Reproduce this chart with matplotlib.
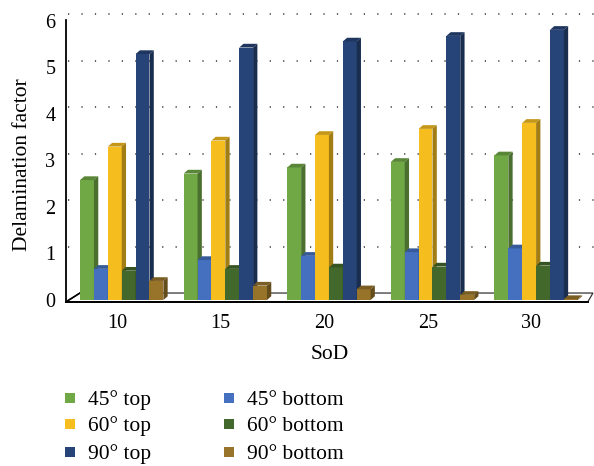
import matplotlib
matplotlib.use("Agg")
import matplotlib.pyplot as plt
import numpy as np

# delamination factor at each stand-off distance
sod = ["10", "15", "20", "25", "30"]
top_45 = [2.58, 2.72, 2.85, 2.97, 3.11]
bottom_45 = [0.67, 0.86, 0.95, 1.03, 1.11]
top_60 = [3.30, 3.43, 3.55, 3.68, 3.81]
bottom_60 = [0.63, 0.67, 0.70, 0.72, 0.74]
top_90 = [5.29, 5.43, 5.56, 5.68, 5.81]
bottom_90 = [0.41, 0.31, 0.23, 0.11, 0.02]
y_ticks = [0, 1, 2, 3, 4, 5, 6]

series = [
    ("45° top", top_45, "#70A845"),
    ("45° bottom", bottom_45, "#4570BF"),
    ("60° top", top_60, "#F6BD1F"),
    ("60° bottom", bottom_60, "#43682B"),
    ("90° top", top_90, "#264478"),
    ("90° bottom", bottom_90, "#98742A"),
]

plt.rcParams["font.family"] = ["Liberation Serif", "DejaVu Serif"]
FS = 14.5
FS_LAB = 15.5

fig = plt.figure(figsize=(5.94, 4.66), dpi=100)
ax = fig.add_axes([0, 0, 1, 1])
ax.set_xlim(-1.175, 4.559)
ax.set_ylim(-3.570, 6.452)
ax.axis("off")

# fake 3-d geometry: bar width, depth offsets, back wall offsets
w = 0.134
dx, dy = 0.0415, 0.080
wall_dx, wall_dy = 0.135, 0.15
x_axis = -0.538
x_right = 4.549
floor_y = -0.04
half_digit = 0.143  # half the digit height, to centre digits on a baseline


def shade(c, f):
    r, g, b = matplotlib.colors.to_rgb(c)
    return (r * f, g * f, b * f)


# back wall dotted gridlines
for k in y_ticks[1:]:
    ax.plot([x_axis + 0.02, 4.56], [k + wall_dy, k + wall_dy],
            color="#333333", lw=1.1, ls=(0, (0.8, 8)), zorder=1)

# floor
ax.fill([x_axis, x_axis + wall_dx, x_right, x_right - 0.05],
        [floor_y, wall_dy, wall_dy, floor_y],
        facecolor="white", edgecolor="#333333", lw=0.9, zorder=2)
ax.plot([x_axis, x_right - 0.05], [floor_y, floor_y], color="black", lw=1.4, zorder=3)
ax.plot([x_axis, x_axis + wall_dx], [floor_y, wall_dy], color="black", lw=1.2, zorder=3)

# y axis line
ax.plot([x_axis, x_axis], [floor_y, 6.02], color="black", lw=1.3, zorder=3)

x_groups = np.arange(len(sod))
z = 10
for gi, xg in enumerate(x_groups):
    for j, (name, vals, col) in enumerate(series):
        x0 = xg - 3 * w + j * w
        x1 = x0 + w
        v = vals[gi]
        ax.bar(x0, v, width=w, align="edge", color=col, lw=0, zorder=z)
        ax.fill([x0, x0 + dx, x1 + dx, x1], [v, v + dy, v + dy, v],
                color=shade(col, 0.8), lw=0, zorder=z)
        ax.fill([x1, x1 + dx, x1 + dx, x1], [0, dy, v + dy, v],
                color=shade(col, 0.66), lw=0, zorder=z)
        z += 1

# tick labels
for k in y_ticks:
    ax.text(-0.64, k - half_digit, str(k), ha="right", va="baseline", fontsize=FS)
for xg, lab in zip(x_groups, sod):
    ax.text(xg - 0.045, -0.452 - half_digit, lab, ha="center", va="baseline",
            fontsize=FS)

ax.text(2.01, -1.12 - half_digit, "SoD", ha="center", va="baseline", fontsize=FS_LAB)
ax.text(-0.962, 2.92, "Delamination factor", ha="center", va="center",
        rotation=90, fontsize=FS_LAB)

# legend: two columns of three rows
order = [0, 2, 4, 1, 3, 5]
legend_rows = [-2.108, -2.677, -3.269]
legend_cols = [-0.499, 1.036]
for n, i in enumerate(order):
    name, vals, col = series[i]
    lx = legend_cols[n // 3]
    ly = legend_rows[n % 3]
    ax.scatter([lx], [ly], marker="s", s=44, color=col, lw=0)
    ax.text(lx + 0.174, ly - half_digit, name, ha="left", va="baseline",
            fontsize=FS_LAB)

fig.savefig("out.png", dpi=100)
